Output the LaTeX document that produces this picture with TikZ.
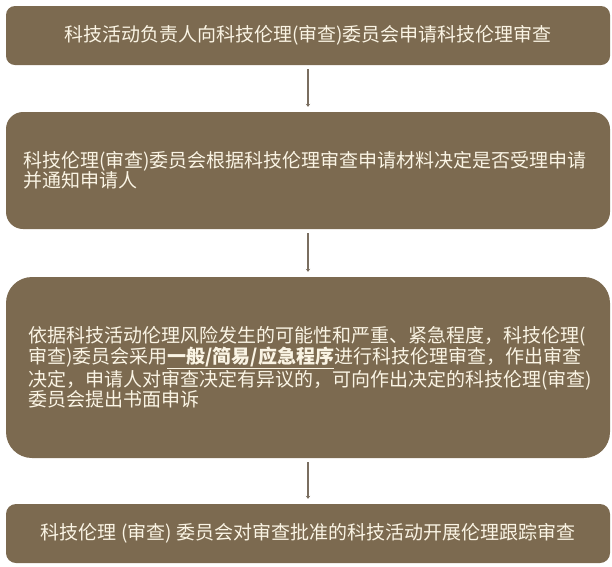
\documentclass[tikz,border=0pt]{standalone}
\usepackage{fontspec}
\setmainfont{Noto Sans CJK SC}
\usetikzlibrary{arrows.meta}
\definecolor{boxbrown}{RGB}{124,106,80}
\definecolor{boxtext}{RGB}{250,244,228}
\definecolor{linkgray}{RGB}{122,110,96}
\tikzset{
  stepbox/.style={fill=boxbrown, text=boxtext, minimum width=604pt, inner xsep=0pt,
    font=\fontsize{19}{20.5}\selectfont},
}
\begin{document}
\begin{tikzpicture}[x=1pt,y=-1pt]
      \useasboundingbox (0,0) rectangle (612,566);
      \draw
        (308,35.5) node[stepbox, rounded corners=9pt, minimum height=59pt] (1)
          {科技活动负责人向科技伦理(审查)委员会申请科技伦理审查}
        (308,170.5) node[stepbox, rounded corners=17pt, minimum height=117pt,
          inner xsep=17pt, text width=570pt, align=left] (2)
          {科技伦理(审查)委员会根据科技伦理审查申请材料决定是否受理申请\\并通知申请人}
        (308,367.5) node[stepbox, rounded corners=26pt, minimum height=181pt,
          inner xsep=22pt, text width=560pt, align=left] (3)
          {依据科技活动伦理风险发生的可能性和严重、紧急程度，科技伦理(\\
           审查)委员会采用\underline{\textbf{一般/简易/应急程序}}进行科技伦理审查，作出审查\\
           决定，申请人对审查决定有异议的，可向作出决定的科技伦理(审查)\\
           委员会提出书面申诉}
        (308,533.5) node[stepbox, rounded corners=10pt, minimum height=59pt] (4)
          {科技伦理 (审查) 委员会对审查批准的科技活动开展伦理跟踪审查};
      \begin{scope}[-{Stealth[length=3pt,width=4.5pt]}, draw=linkgray, line width=1.6pt,
          shorten <=4pt, shorten >=5pt]
        \draw (1) to (2);
        \draw (2) to (3);
        \draw (3) to (4);
      \end{scope}
    \end{tikzpicture}
\end{document}
